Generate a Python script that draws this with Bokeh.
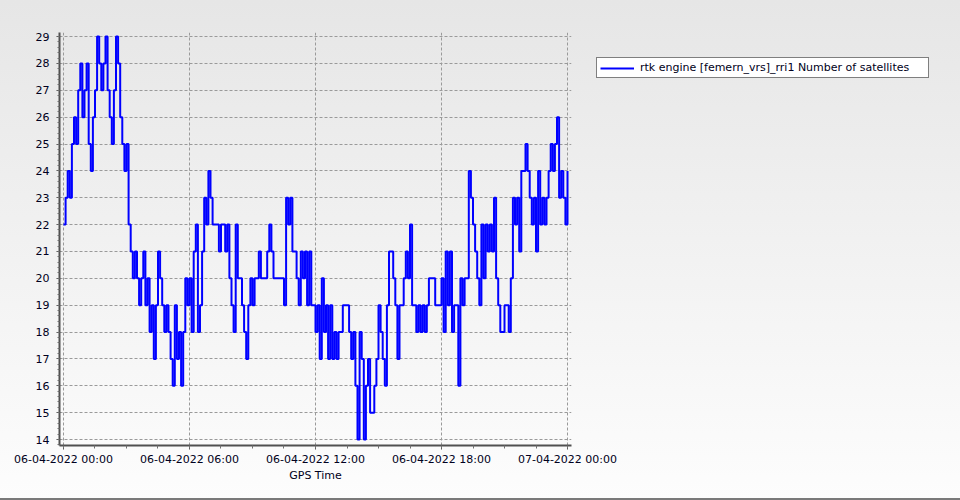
import pandas as pd
from bokeh.plotting import figure
from bokeh.models import (Range1d, FixedTicker, SingleIntervalTicker, DatetimeTickFormatter,
                          Legend, LegendItem, ColumnDataSource, InlineStyleSheet)
from bokeh.embed import file_html
from bokeh.resources import INLINE

# ---- data (one value every 6 minutes) ----
start_time = "2022-04-06 00:00"
sample_step = "6min"
satellites = [
    22, 23, 24, 23, 25, 26, 25, 27, 28, 26,
    27, 28, 25, 24, 26, 27, 29, 28, 27, 28,
    29, 27, 26, 25, 27, 29, 28, 26, 25, 24,
    25, 22, 21, 20, 21, 20, 19, 20, 21, 19,
    20, 18, 19, 17, 19, 21, 20, 19, 18, 19,
    18, 17, 16, 19, 17, 18, 16, 18, 20, 19,
    20, 18, 21, 22, 18, 19, 21, 23, 22, 24,
    23, 22, 22, 22, 21, 22, 22, 21, 22, 20,
    19, 18, 22, 20, 20, 19, 18, 17, 19, 20,
    19, 20, 20, 21, 20, 20, 20, 21, 22, 21,
    20, 20, 20, 20, 20, 19, 23, 22, 23, 21,
    21, 20, 19, 21, 20, 21, 19, 21, 19, 19,
    18, 19, 17, 20, 18, 19, 17, 19, 17, 18,
    17, 18, 18, 19, 19, 19, 18, 17, 18, 16,
    14, 18, 17, 14, 16, 17, 15, 15, 16, 17,
    19, 18, 17, 16, 19, 21, 21, 20, 19, 17,
    19, 19, 20, 21, 20, 22, 19, 19, 18, 19,
    18, 19, 18, 19, 20, 20, 20, 19, 19, 19,
    20, 18, 21, 19, 21, 18, 19, 19, 16, 20,
    19, 20, 20, 24, 23, 22, 21, 20, 19, 22,
    20, 22, 21, 22, 21, 23, 20, 19, 18, 18,
    19, 19, 18, 20, 23, 22, 23, 21, 24, 24,
    25, 24, 23, 22, 23, 21, 24, 22, 23, 22,
    23, 24, 25, 24, 25, 26, 23, 24, 23, 22,
    24,
]
series_name = "rtk engine [femern_vrs]_rri1 Number of satellites"
x_title = "GPS Time"
x_tick_format = "%d-%m-%Y %H:%M"
x_major_step = "6h"
x_minor_step = "90min"

start = pd.Timestamp(start_time)
times = pd.date_range(start, periods=len(satellites), freq=sample_step)
end = start + pd.Timedelta("24h")
major_ticks = pd.date_range(start, end, freq=x_major_step)
minor_ticks = pd.date_range(start, end, freq=x_minor_step)


def ms(ts):
    return [t.value / 1e6 for t in ts]


src = ColumnDataSource(dict(t=times, n=satellites))

pad = pd.Timedelta("0.19h")
p = figure(frame_width=512, frame_height=413, x_axis_type="datetime",
           x_range=Range1d(start - pad, end + pad),
           y_range=Range1d(13.78, 29.15),
           output_backend="svg", toolbar_location=None,
           min_border_left=59, min_border_right=389,
           min_border_top=32, min_border_bottom=55)

# gradient page background shown through a transparent canvas
p.background_fill_alpha = 0
p.border_fill_alpha = 0
p.outline_line_color = None
p.stylesheets = [InlineStyleSheet(css=(
    ":host { background: linear-gradient(to bottom, #e6e6e6, #fdfdfd); "
    "box-shadow: inset -2px -2px 0 #7a7a7a; }"))]

r = p.step(x="t", y="n", source=src, mode="after", line_color="#0000ff", line_width=2)

# axes
xa = p.xaxis[0]
xa.ticker = FixedTicker(ticks=ms(major_ticks), minor_ticks=ms(minor_ticks))
fmt = x_tick_format
xa.formatter = DatetimeTickFormatter(microseconds=fmt, milliseconds=fmt, seconds=fmt,
                                     minsec=fmt, minutes=fmt, hourmin=fmt, hours=fmt,
                                     days=fmt, months=fmt, years=fmt)
xa.axis_label = x_title
ya = p.yaxis[0]
ya.ticker = SingleIntervalTicker(interval=1, num_minor_ticks=5)

for ax in (xa, ya):
    ax.axis_line_color = "#505050"
    ax.axis_line_width = 2
    ax.major_tick_line_color = "#505050"
    ax.minor_tick_line_color = "#707070"
    ax.major_label_text_font = "DejaVu Sans"
    ax.major_label_text_font_size = "11px"
    ax.major_label_text_color = "#000020"
    ax.axis_label_text_font = "DejaVu Sans"
    ax.axis_label_text_font_size = "11px"
    ax.axis_label_text_font_style = "normal"
    ax.axis_label_text_color = "#000020"
    ax.major_tick_in = 0
    ax.minor_tick_in = 0

xa.major_tick_out = 4
xa.minor_tick_out = 3
xa.major_label_standoff = 3
xa.axis_label_standoff = 0
ya.major_tick_out = 3
ya.minor_tick_out = 2
ya.major_label_standoff = 7

for g in (p.xgrid[0], p.ygrid[0]):
    g.grid_line_color = "#9a9a9a"
    g.grid_line_dash = "3 2"
    g.grid_line_width = 1

lg = Legend(items=[LegendItem(label=series_name, renderers=[r])], location="top_left")
lg.background_fill_color = "#ffffff"
lg.background_fill_alpha = 1.0
lg.border_line_color = "#000000"
lg.border_line_width = 1
lg.label_text_font = "DejaVu Sans"
lg.label_text_font_size = "11px"
lg.label_text_color = "#000020"
lg.padding = 3
lg.margin = 25
lg.spacing = 0
lg.glyph_width = 34
lg.glyph_height = 10
lg.label_height = 10
lg.label_width = 285
lg.label_standoff = 6
p.add_layout(lg, "right")

open("out.html", "w").write(file_html(p, INLINE))
